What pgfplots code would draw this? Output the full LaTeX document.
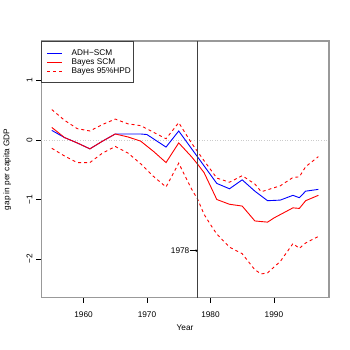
\documentclass[border=0pt]{standalone}
\usepackage{pgfplots}
\pgfplotsset{compat=1.18}
\usetikzlibrary{arrows.meta}
\usepackage{fontspec}
\setmainfont{Liberation Sans}
\definecolor{rblue}{RGB}{0,0,255}
\definecolor{rred}{RGB}{255,0,0}
\newcommand\lfont{\fontsize{8.3}{9}\selectfont}
\begin{document}
\begin{tikzpicture}
\begin{axis}[
  name=ax,
  scale only axis,
  width=288bp, height=257bp,
  xmin=1953.32, xmax=1998.68,
  ymin=-2.651, ymax=1.661,
  font=\lfont,
  /pgf/number format/assume math mode=true,
  axis line style={black!40, line width=1.1bp},
  tick align=outside,
  xtick pos=bottom, ytick pos=left,
  major tick length=5bp,
  tick style={black, line width=0.6bp},
  xtick={1960,1970,1980,1990},
  xticklabels={1960,1970,1980,1990},
  ytick={-2,-1,0,1},
  yticklabels={−2,−1,0,1},
  xticklabel style={inner sep=0pt, anchor=north, yshift=-8.5bp},
  yticklabel style={inner sep=0pt, rotate=90, anchor=south},
  yticklabel shift=3.5bp,
  xlabel={Year},
  ylabel={gap in per capita GDP},
  every axis x label/.style={at={(axis description cs:0.5,-0.117)}, anchor=center},
  every axis y label/.style={at={(axis description cs:-0.118,0.5)}, anchor=center, rotate=90},
  legend cell align=left,
  legend image code/.code={\path (0bp,0bp); \draw[#1] (3.6bp,0bp) -- (18bp,0bp);},
  legend style={at={(0,1)}, anchor=north west, draw=black!75, line width=0.6bp,
    fill=white, font=\lfont,
    inner xsep=2bp, inner ysep=8bp, row sep=1.5bp, column sep=9.3bp,
    nodes={inner sep=0bp, text height=6bp, text depth=1.5bp, anchor=west}},
]
\draw[black!20, dotted, line width=0.6bp] (axis cs:1953.32,0) -- (axis cs:1998.68,0);
\addplot[rblue, line width=0.9bp] coordinates {
(1955,0.16) (1957,0.04) (1959,-0.05) (1961,-0.15) (1963,-0.02) (1965,0.10)
(1967,0.10) (1969,0.10) (1970,0.09) (1973,-0.12) (1975,0.15) (1978,-0.29)
(1981,-0.73) (1983,-0.82) (1985,-0.67) (1987,-0.86) (1989,-1.02) (1991,-1.01)
(1993,-0.93) (1994,-0.97) (1995,-0.86) (1997,-0.83)};
\addlegendentry{\lfont ADH−SCM}
\addplot[rred, line width=0.9bp] coordinates {
(1955,0.21) (1957,0.04) (1959,-0.05) (1961,-0.15) (1963,-0.02) (1965,0.10)
(1967,0.05) (1969,-0.02) (1971,-0.19) (1973,-0.38) (1975,-0.05) (1977,-0.28)
(1978,-0.41) (1979,-0.55) (1981,-1.00) (1983,-1.08) (1985,-1.11) (1987,-1.36)
(1989,-1.38) (1990,-1.31) (1993,-1.14) (1994,-1.15) (1995,-1.02) (1997,-0.93)};
\addlegendentry{\lfont Bayes SCM}
\addplot[rred, line width=0.9bp, dash pattern=on 3bp off 3bp] coordinates {
(1955,0.51) (1957,0.33) (1959,0.19) (1961,0.15) (1963,0.26) (1965,0.35)
(1967,0.27) (1969,0.24) (1971,0.13) (1973,0.02) (1975,0.29) (1977,-0.05)
(1979,-0.35) (1981,-0.64) (1983,-0.71) (1985,-0.60) (1987,-0.74) (1988,-0.87)
(1991,-0.77) (1993,-0.63) (1994,-0.62) (1995,-0.45) (1997,-0.28)};
\addlegendentry{\lfont Bayes 95\%HPD}
\addplot[rred, line width=0.9bp, dash pattern=on 3bp off 3bp, forget plot] coordinates {
(1955,-0.14) (1957,-0.27) (1959,-0.38) (1961,-0.38) (1963,-0.22) (1965,-0.11)
(1967,-0.22) (1969,-0.40) (1971,-0.61) (1973,-0.79) (1975,-0.39) (1977,-0.82)
(1978,-1.00) (1979,-1.25) (1980,-1.42) (1981,-1.58) (1983,-1.80) (1985,-1.91)
(1987,-2.18) (1988,-2.25) (1989,-2.23) (1991,-2.04) (1993,-1.74) (1994,-1.82)
(1995,-1.73) (1997,-1.62)};
\draw[black!75, line width=0.7bp] (axis cs:1978,-2.651) -- (axis cs:1978,1.661);
\node[anchor=east, inner sep=0pt] at (axis cs:1976.7,-1.86) {1978};
\draw[black, line width=0.5bp, -{To[length=2bp,width=3bp]}] (axis cs:1976.85,-1.86) -- (axis cs:1977.95,-1.86);
\end{axis}
\path ([xshift=-41bp,yshift=-52bp]ax.south west) rectangle ([xshift=21bp,yshift=41bp]ax.north east);
\end{tikzpicture}
\end{document}
